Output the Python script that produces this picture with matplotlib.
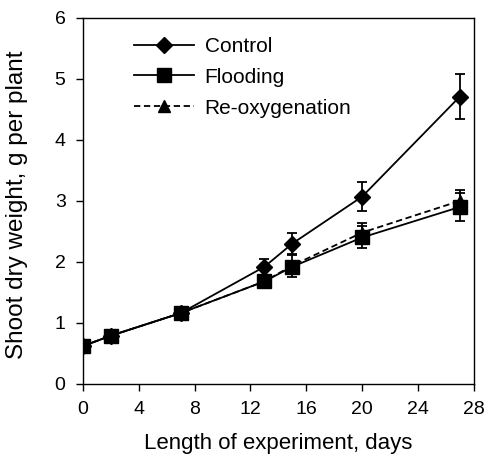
import matplotlib
matplotlib.use("Agg")
import matplotlib.pyplot as plt
from matplotlib.lines import Line2D

plt.rcParams['font.family'] = ['Liberation Sans', 'DejaVu Sans']

days = [0, 2, 7, 13, 15, 20, 27]

control = [0.62, 0.79, 1.16, 1.92, 2.30, 3.07, 4.71]
control_err = [0.03, 0.03, 0.04, 0.13, 0.18, 0.24, 0.37]

flooding = [0.62, 0.79, 1.16, 1.68, 1.92, 2.40, 2.90]
flooding_err = [0.03, 0.03, 0.04, 0.07, 0.08, 0.18, 0.23]

reoxy = [0.62, 0.79, 1.16, 1.68, 1.94, 2.48, 3.00]
reoxy_err = [0.03, 0.03, 0.04, 0.07, 0.19, 0.16, 0.18]

series_labels = ['Control', 'Flooding', 'Re-oxygenation']

fig = plt.figure(figsize=(4.88, 4.57), dpi=100)
ax = fig.add_axes([0.170, 0.160, 0.801, 0.801])

lw = 1.3
dash = (0, (3.5, 2))
common = dict(color='black', ecolor='black', elinewidth=1.3, capsize=3.6,
              capthick=1.3, linewidth=lw)
ax.errorbar(days, control, yerr=control_err, marker='D', markersize=8.5,
            linestyle='-', **common)
ax.errorbar(days, reoxy, yerr=reoxy_err, marker='^', markersize=9,
            linestyle=dash, **common)
ax.errorbar(days, flooding, yerr=flooding_err, marker='s', markersize=10,
            linestyle='-', **common)

ax.set_xlim(0, 28)
ax.set_ylim(0, 6)
ax.set_xticks(range(0, 29, 4))
ax.set_yticks(range(0, 7))
ax.tick_params(direction='out', length=5, width=1.0, labelsize=14,
               colors='black', pad=7.5)
for s in ax.spines.values():
    s.set_linewidth(1.0)

ax.set_xlabel('Length of experiment, days', fontsize=16)
ax.set_ylabel('Shoot dry weight, g per plant', fontsize=17.5)
ax.xaxis.set_label_coords(0.5, -0.135)
ax.yaxis.set_label_coords(-0.141, 0.49)

handles = [
    Line2D([], [], color='black', lw=lw, marker='D', markersize=8.5),
    Line2D([], [], color='black', lw=lw, marker='s', markersize=10),
    Line2D([], [], color='black', lw=lw, marker='^', markersize=9, linestyle=dash),
]
ax.legend(handles, series_labels, loc='upper left',
          bbox_to_anchor=(0.130, 0.948), borderaxespad=0, borderpad=0,
          frameon=False, fontsize=15, handlelength=2.9, handletextpad=0.5,
          labelspacing=0.57, numpoints=1)

fig.savefig('out.png', dpi=100)
